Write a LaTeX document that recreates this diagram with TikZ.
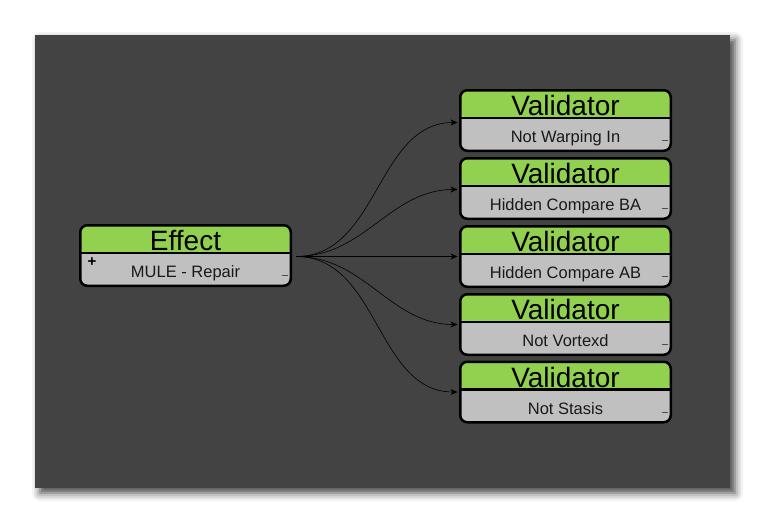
\documentclass[tikz,border=0pt]{standalone}
\usepackage{fontspec}
\setmainfont{Liberation Sans}
\usetikzlibrary{arrows.meta}
\usetikzlibrary{shadows.blur}
\definecolor{boardgrey}{HTML}{434343}
\definecolor{hdrgreen}{HTML}{92D050}
\definecolor{bodygrey}{HTML}{C0C0C0}

\begin{document}
\begin{tikzpicture}[x=1pt,y=-1pt,
  board/.style={fill=boardgrey,minimum width=695pt,minimum height=453pt,inner sep=0pt,
    blur shadow={shadow xshift=5pt,shadow yshift=-5pt,shadow blur radius=8pt,shadow opacity=75}},
  box/.style={draw,line width=2.5pt,rounded corners=7pt,fill=bodygrey,
    minimum width=210.5pt,minimum height=60.5pt,inner sep=0pt,
    path picture={
      \fill[hdrgreen] (path picture bounding box.north west) rectangle ([yshift=-27.5pt]path picture bounding box.north east);
      \draw[line width=2.5pt] ([yshift=-27.5pt]path picture bounding box.north west) -- ([yshift=-27.5pt]path picture bounding box.north east);
      \draw[line width=0.7pt,black!70] ([xshift=-8.5pt,yshift=10pt]path picture bounding box.south east) -- ++(5.5,0);
    }},
  head/.style={font=\fontsize{28}{30}\selectfont,anchor=base,inner sep=0pt},
  body/.style={font=\fontsize{16.5}{18}\selectfont,anchor=base,inner sep=0pt,text=black!90},
  link/.style={line width=0.6pt,-{Stealth[length=7pt,width=6pt]},shorten >=1.5pt}
]
\useasboundingbox (0,0) rectangle (765,523);

\node[board] (board) at (382.5,261.5) {}; %dark panel

\node[box] (effect) at (185.5,255.5) {}; %effect box
\node[head] (effecthead) at ([yshift=-26.5pt]effect.north) {Effect};
\node[body] (effectbody) at ([yshift=-53.5pt]effect.north) {MULE - Repair};
\node[font=\bfseries\fontsize{15}{15}\selectfont,inner sep=0pt] (effectplus) at (92,262) {+};

\node[box] (v1) at (565.5,120.5) {}; %validator 1
\node[head] (v1head) at ([yshift=-26.5pt]v1.north) {Validator};
\node[body] (v1body) at ([yshift=-53.5pt]v1.north) {Not Warping In};

\node[box] (v2) at (565.5,188.5) {}; %validator 2
\node[head] (v2head) at ([yshift=-26.5pt]v2.north) {Validator};
\node[body] (v2body) at ([yshift=-53.5pt]v2.north) {Hidden Compare BA};

\node[box] (v3) at (565.5,256.5) {}; %validator 3
\node[head] (v3head) at ([yshift=-26.5pt]v3.north) {Validator};
\node[body] (v3body) at ([yshift=-53.5pt]v3.north) {Hidden Compare AB};

\node[box] (v4) at (565.5,324.5) {}; %validator 4
\node[head] (v4head) at ([yshift=-26.5pt]v4.north) {Validator};
\node[body] (v4body) at ([yshift=-53.5pt]v4.north) {Not Vortexd};

\node[box] (v5) at (565.5,392) {}; %validator 5
\node[head] (v5head) at ([yshift=-26.5pt]v5.north) {Validator};
\node[body] (v5body) at ([yshift=-53.5pt]v5.north) {Not Stasis};

\coordinate (fan) at ([xshift=4pt,yshift=-1pt]effect.east); %where the links leave

\draw[link] (fan) to[out=0,in=180] ([yshift=-2pt]v1.west);
\draw[link] (fan) to[out=0,in=180] ([yshift=-1pt]v2.west);
\draw[link] (fan) to[out=0,in=180] (v3.west);
\draw[link] (fan) to[out=0,in=180] (v4.west);
\draw[link] (fan) to[out=0,in=180] (v5.west);

\end{tikzpicture}
\end{document}
